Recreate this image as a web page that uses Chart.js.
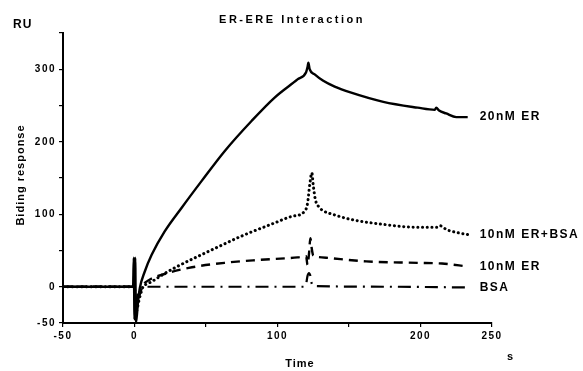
<!DOCTYPE html>
<html>
<head>
<meta charset="utf-8">
<script src="https://cdn.jsdelivr.net/npm/chart.js@4/dist/chart.umd.min.js"></script>
<style>
  html, body { margin: 0; padding: 0; background: #fff; }
  #wrap { width: 583px; height: 371px; }
</style>
</head>
<body>
<div id="wrap"><canvas id="sprChart" width="583" height="371"></canvas></div>
<script>
// ----- data -----
const xTicksShown = [-50, 0, 100, 200, 250];
const yTicksShown = [-50, 0, 100, 200, 300];

const er20Time   = [-50, -1, -0.5, 0, 0.5, 1, 2.5, 3.8, 7, 12, 21, 33, 47, 63, 82, 98, 114, 120, 121, 121.6, 122.5, 126, 132, 140, 151, 174, 198, 210, 211, 213, 218, 225, 233];
const er20Values = [0, 0, 40, -45, 40, -50, -20, -1, 20, 44, 76, 109, 146, 187, 229, 261, 286, 296, 303, 309, 300, 293, 284, 276, 268, 255, 247, 244, 247, 243, 239, 234, 234];

const erBsaTime   = [-50, 0, 1, 3, 4, 6, 9, 12, 20, 28, 52, 75, 98, 110, 119, 121, 122.5, 124, 125, 126.5, 129, 131, 140, 151, 174, 198, 212, 214, 218, 225, 233];
const erBsaValues = [0, 0, -35, -20, -12, 0, 4, 7, 17, 26, 49, 70, 88, 97, 104, 115, 140, 157, 140, 120, 110, 106, 99, 93, 86, 82, 82, 84, 79, 75, 72];

const er10Time   = [-50, 0, 1, 3, 6, 10, 20, 38, 63, 87, 114, 120, 121, 122, 123, 124, 125, 128, 134, 162, 198, 215, 233];
const er10Values = [0, 0, -30, -15, 2, 9, 17, 26, 33, 37, 40.5, 42, 30, 45, 67, 52, 43, 41, 40, 35, 33, 32, 28];

const bsaTime   = [-50, 0, 1, 3, 5, 60, 118, 120, 121, 122, 123, 124, 126, 180, 233];
const bsaValues = [0, 0, -20, -5, 0, 0, 0, 4, 15, 19, 15, 4, 1, 0, -1];

const seriesNames = ['20nM ER', '10nM ER+BSA', '10nM ER', 'BSA'];

function toPoints(xs, ys) {
  return xs.map((x, i) => ({ x: x, y: ys[i] }));
}

const FONT = 'Liberation Sans, Arial, sans-serif';

// labels at the end of each trace + titles
const annotate = {
  id: 'annotate',
  beforeDraw(chart) {
    chart.ctx.letterSpacing = '1.5px';
  },
  afterDraw(chart) {
    const ctx = chart.ctx;
    const xs = chart.scales.x;
    const ys = chart.scales.y;
    ctx.save();
    ctx.fillStyle = '#000';
    ctx.textBaseline = 'middle';

    // series end labels
    ctx.letterSpacing = '1.5px';
    ctx.font = 'bold 12px ' + FONT;
    ctx.textAlign = 'left';
    chart.data.datasets.forEach((ds) => {
      const last = ds.data[ds.data.length - 1];
      const px = xs.getPixelForValue(last.x);
      const py = ys.getPixelForValue(last.y);
      ctx.fillText(ds.label, px + 12, py);
    });

    // chart title
    ctx.letterSpacing = '2.5px';
    ctx.font = 'bold 11px ' + FONT;
    ctx.textAlign = 'center';
    ctx.fillText('ER-ERE Interaction', 292, 20);

    // unit labels
    ctx.letterSpacing = '1px';
    ctx.font = 'bold 12px ' + FONT;
    ctx.textAlign = 'left';
    ctx.fillText('RU', 13, 25);
    ctx.font = 'bold 11px ' + FONT;
    ctx.fillText('s', 507, 357);

    // axis titles
    ctx.letterSpacing = '1px';
    ctx.textAlign = 'center';
    ctx.fillText('Time', 300, 364);
    ctx.translate(21, 175);
    ctx.rotate(-Math.PI / 2);
    ctx.fillText('Biding response', 0, 0);
    ctx.restore();
  }
};

const ctx = document.getElementById('sprChart').getContext('2d');

new Chart(ctx, {
  type: 'line',
  data: {
    datasets: [
      {
        label: seriesNames[0],
        data: toPoints(er20Time, er20Values),
        borderColor: '#000',
        borderWidth: 2.4,
        cubicInterpolationMode: 'monotone'
      },
      {
        label: seriesNames[1],
        data: toPoints(erBsaTime, erBsaValues),
        borderColor: '#000',
        borderWidth: 3,
        borderDash: [0.1, 4.6],
        borderCapStyle: 'round',
        cubicInterpolationMode: 'monotone'
      },
      {
        label: seriesNames[2],
        data: toPoints(er10Time, er10Values),
        borderColor: '#000',
        borderWidth: 2.4,
        borderDash: [9, 6],
        cubicInterpolationMode: 'monotone'
      },
      {
        label: seriesNames[3],
        data: toPoints(bsaTime, bsaValues),
        borderColor: '#000',
        borderWidth: 2.2,
        borderDash: [13, 6, 2, 6],
        cubicInterpolationMode: 'monotone'
      }
    ]
  },
  options: {
    responsive: false,
    maintainAspectRatio: false,
    animation: false,
    layout: { padding: { top: 33, right: 91, left: 0, bottom: 0 } },
    elements: { point: { radius: 0 } },
    scales: {
      x: {
        type: 'linear',
        min: -50,
        max: 250,
        afterFit(scale) { scale.height = 48; },
        ticks: {
          stepSize: 50,
          autoSkip: false,
          maxRotation: 0,
          padding: 3,
          color: '#000',
          font: { family: FONT, weight: 'bold', size: 10 },
          callback: (v) => xTicksShown.includes(v) ? String(v) : ''
        },
        grid: { drawOnChartArea: false, tickLength: 4, color: '#000', lineWidth: 1.2 },
        border: { display: true, color: '#000', width: 2 }
      },
      y: {
        min: -50,
        max: 350,
        afterFit(scale) { scale.width = 63; },
        ticks: {
          stepSize: 50,
          autoSkip: false,
          padding: 3,
          color: '#000',
          font: { family: FONT, weight: 'bold', size: 10 },
          callback: (v) => yTicksShown.includes(v) ? String(v) : ''
        },
        grid: { drawOnChartArea: false, tickLength: 4, color: '#000', lineWidth: 1.2 },
        border: { display: true, color: '#000', width: 2 }
      }
    },
    plugins: {
      legend: { display: false },
      tooltip: { enabled: false }
    }
  },
  plugins: [annotate]
});
</script>
</body>
</html>
